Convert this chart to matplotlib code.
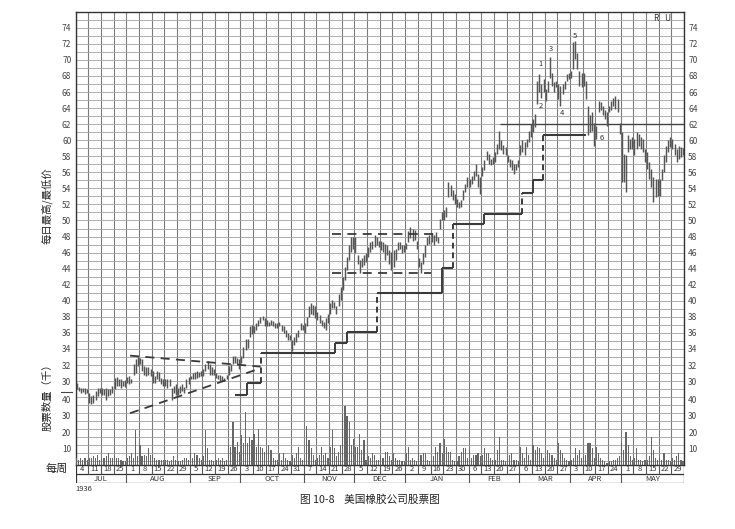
import numpy as np
import matplotlib.pyplot as plt
from matplotlib.lines import Line2D

plt.rcParams['font.family'] = ['Noto Sans CJK SC', 'DejaVu Sans']

# 每日最高/最低价, 6 bars a week, weeks ending Sat Jul 4 1936 .. May 29 1937
highs = [
    29.8, 29.3, 29.2, 29.2, 29.1, 29.0,   # Jul 4
    28.5, 28.1, 28.3, 28.75, 29.2, 29.1,
    29.2, 29.0, 29.2, 29.0, 29.0, 29.4,
    30.4, 30.5, 30.2, 30.2, 30.0, 30.1,
    30.5, 30.6, 30.3, 32.1, 32.7, 33.0,   # Aug 1
    32.9, 32.7, 31.9, 31.7, 31.7, 31.5,
    31.25, 30.6, 31.25, 31.1, 30.4, 30.2,
    30.2, 30.3, 30.2, 29.2, 29.4, 29.6,
    29.2, 29.4, 29.6, 29.3, 30.2, 30.5,
    30.6, 31.0, 31.1, 31.25, 31.1, 31.25,  # Sep 5
    31.5, 32.1, 32.5, 32.1, 31.7, 31.5,
    31.0, 30.8, 30.8, 30.6, 30.4, 30.8,
    31.9, 32.1, 33.1, 33.1, 32.9, 32.7,
    33.1, 34.2, 35.2, 35.3, 36.8, 37.0,   # Oct 3
    36.8, 37.2, 37.6, 38.0, 38.1, 37.8,
    37.6, 37.4, 37.6, 37.5, 37.2, 37.2,
    37.4, 37.0, 36.8, 36.4, 36.0, 35.7,
    35.1, 35.5, 36.0, 36.4, 37.2, 37.0,
    37.2, 38.0, 39.3, 39.7, 39.5, 39.3,   # Nov 7
    38.6, 38.2, 37.6, 37.4, 37.8, 38.4,
    39.7, 40.1, 39.9, 39.3, 40.9, 41.75,
    43.0, 44.2, 45.5, 47.0, 48.0, 47.9,
    48.0, 45.7, 45.1, 45.3, 45.7, 45.9,   # Dec 5
    46.7, 47.3, 47.5, 48.2, 47.96, 47.5,
    47.5, 47.3, 47.1, 46.9, 46.3, 46.1,
    46.3, 46.5, 47.3, 47.3, 46.9, 46.9,
    47.2, 48.7, 49.2, 49.0, 48.8, 47.5,   # Jan 2
    45.3, 44.8, 46.0, 46.9, 48.0, 48.2,
    48.4, 48.2, 48.6, 48.0, 50.2, 51.1,
    51.3, 51.7, 54.8, 54.4, 53.75, 53.3,
    52.7, 52.3, 52.5, 53.75, 54.6, 55.4,
    55.2, 55.6, 56.2, 57.06, 55.8, 55.4,  # Feb 6
    56.65, 57.5, 58.7, 58.3, 57.7, 57.9,
    58.5, 59.55, 61.2, 60.0, 59.34, 59.13,
    58.1, 57.7, 57.5, 57.06, 57.06, 57.5,
    59.34, 60.0, 59.76, 60.17, 61.2, 62.0,  # Mar 6
    62.65, 63.3, 67.4, 68.24, 67.0, 67.6,
    66.4, 67.4, 70.3, 68.4, 67.2, 67.4,
    67.0, 66.8, 67.0, 67.4, 68.2, 68.4,
    68.6, 72.2, 72.4, 70.9, 68.6, 68.4,   # Apr 3
    68.4, 67.4, 64.3, 63.1, 63.5, 62.2,
    61.8, 64.9, 64.7, 64.3, 63.7, 63.5,
    64.3, 64.9, 65.3, 65.5, 65.1, 62.2,
    61.0, 58.3, 58.1, 60.6, 60.2, 60.4,   # May 1
    60.2, 61.0, 60.8, 60.4, 60.2, 58.9,
    58.5, 57.3, 56.4, 55.4, 55.2, 55.2,
    55.2, 56.4, 58.1, 59.3, 60.0, 60.4,
    60.2, 59.5, 58.9, 59.3, 59.1, 59.0,
]
lows = [
    29.0, 28.75, 28.5, 28.6, 28.4, 28.5,
    27.3, 27.1, 27.3, 27.7, 28.1, 28.5,
    28.3, 28.3, 27.7, 28.1, 28.3, 28.5,
    29.0, 29.4, 29.4, 29.2, 29.4, 29.3,
    29.8, 29.6, 29.8, 30.8, 31.0, 31.9,
    32.1, 31.25, 30.8, 30.6, 30.8, 30.6,
    29.8, 29.8, 30.2, 30.0, 29.6, 29.4,
    29.4, 29.2, 29.4, 27.7, 28.5, 28.3,
    28.3, 28.5, 28.75, 28.5, 29.2, 29.6,
    30.2, 30.2, 30.3, 30.4, 30.5, 30.6,
    30.6, 31.25, 31.5, 30.8, 30.8, 30.8,
    30.4, 30.2, 30.0, 30.0, 30.0, 30.2,
    30.8, 31.25, 32.1, 32.3, 32.1, 31.5,
    32.3, 32.9, 33.9, 34.1, 35.5, 35.9,
    36.0, 36.4, 36.8, 37.2, 37.6, 36.8,
    36.8, 36.8, 37.0, 36.9, 36.6, 36.6,
    36.8, 36.2, 36.0, 35.5, 35.1, 35.1,
    33.7, 34.5, 34.9, 35.5, 36.4, 36.4,
    36.0, 36.8, 38.0, 38.4, 38.2, 37.8,
    37.6, 37.2, 36.8, 36.6, 36.4, 37.2,
    38.4, 39.05, 39.05, 38.4, 39.3, 40.1,
    41.3, 42.6, 43.8, 45.1, 46.1, 46.5,
    45.9, 44.6, 43.4, 44.2, 44.5, 44.85,
    45.5, 46.1, 46.5, 46.7, 46.9, 46.7,
    46.3, 46.1, 45.1, 45.7, 44.6, 43.8,
    44.2, 45.1, 46.3, 46.5, 45.9, 46.1,
    46.5, 47.3, 47.8, 47.5, 47.6, 46.5,
    44.2, 43.4, 44.6, 45.5, 47.0, 47.1,
    47.3, 46.9, 47.5, 47.2, 49.0, 50.0,
    50.0, 50.4, 52.9, 53.1, 52.5, 52.1,
    51.7, 51.5, 51.7, 52.5, 53.5, 54.2,
    54.2, 54.6, 55.0, 55.6, 54.2, 53.3,
    55.6, 56.24, 57.5, 57.06, 56.86, 57.06,
    57.27, 58.3, 58.93, 58.72, 58.3, 58.1,
    57.27, 56.65, 56.24, 55.8, 56.24, 56.65,
    58.1, 58.5, 58.1, 59.13, 59.76, 60.4,
    61.0, 61.6, 64.5, 66.0, 65.2, 66.0,
    64.9, 66.0, 67.8, 66.8, 66.0, 66.6,
    65.1, 64.3, 65.8, 66.4, 67.4, 67.6,
    67.8, 68.9, 70.1, 68.9, 66.8, 66.6,
    66.8, 65.1, 60.6, 61.0, 61.2, 59.3,
    60.2, 63.5, 63.7, 63.1, 62.6, 61.8,
    63.5, 63.7, 64.3, 63.9, 63.5, 60.8,
    54.8, 54.8, 53.5, 58.5, 58.9, 58.9,
    58.1, 58.9, 59.3, 58.9, 58.5, 57.3,
    56.4, 55.2, 54.2, 52.3, 52.9, 53.1,
    53.1, 55.0, 56.0, 57.3, 58.5, 59.1,
    58.9, 58.1, 57.3, 57.7, 57.9, 58.2,
]
# 股票数量（千）
volumes = [
    4, 3, 4, 3, 4, 3,    4, 4, 5, 4, 6, 3,    4, 4, 5, 7, 4, 4,    5, 4, 4, 3, 2, 2,
    4, 5, 7, 4, 21, 5,   12, 5, 6, 5, 10, 6,  6, 4, 3, 3, 3, 3,    3, 3, 2, 3, 5, 3,
    2, 2, 3, 4, 4, 3,    7, 4, 7, 6, 4, 3,    5, 21, 10, 3, 3, 2,  3, 4, 3, 4, 2, 3,
    12, 11, 26, 11, 14, 8,  18, 13, 32, 13, 17, 15,  19, 11, 22, 11, 10, 8,
    9, 12, 9, 4, 3, 3,   7, 3, 7, 4, 3, 2,    6, 4, 7, 11, 4, 3,
    4, 24, 15, 10, 6, 3,  4, 6, 11, 6, 7, 4,  11, 21, 10, 5, 8, 12,  31, 36, 30, 26, 12, 16,
    11, 11, 19, 9, 15, 3,  5, 4, 7, 6, 3, 3,  5, 4, 8, 8, 5, 3,   7, 4, 3, 3, 2, 2,
    7, 11, 3, 4, 3, 2,   7, 6, 7, 7, 3, 2,    3, 5, 11, 8, 13, 7,  16, 11, 8, 8, 3, 2,
    2, 5, 8, 10, 10, 4,  9, 4, 6, 6, 7, 5,    6, 10, 7, 7, 4, 3,   3, 9, 17, 3, 3, 2,
    2, 6, 7, 3, 3, 2,    11, 7, 4, 11, 6, 3,  12, 9, 11, 10, 7, 4,  5, 9, 7, 6, 4, 3,
    13, 9, 7, 4, 3, 2,   3, 4, 10, 6, 9, 4,   5, 6, 13, 13, 10, 4,  11, 7, 4, 3, 2, 1,
    2, 2, 3, 3, 4, 5,    13, 9, 20, 12, 5, 3,  4, 10, 3, 3, 2, 3,  3, 5, 17, 9, 4, 3,
    4, 3, 7, 3, 3, 2,    4, 3, 5, 7, 3, 2,
]

week_labels = ['4', '11', '18', '25', '1', '8', '15', '22', '29', '5', '12', '19', '26',
               '3', '10', '17', '24', '31', '7', '14', '21', '28', '5', '12', '19', '26',
               '2', '9', '16', '23', '30', '6', '13', '20', '27', '6', '13', '20', '27',
               '3', '10', '17', '24', '1', '8', '15', '22', '29']
months = ['JUL', 'AUG', 'SEP', 'OCT', 'NOV', 'DEC', 'JAN', 'FEB', 'MAR', 'APR', 'MAY']
month_weeks = [4, 5, 4, 5, 4, 4, 5, 4, 4, 4, 5]

# stop line (step) and pattern lines, in week / price units
step_levels = [28.3, 29.8, 33.55, 34.7, 36.15, 41.0, 44.1, 49.6, 50.8, 53.4, 55.1, 60.6]
step_edges = [12.6, 13.5, 14.6, 20.5, 21.4, 23.75, 28.9, 29.8, 32.2, 35.2, 36.1, 36.85, 40.3]
step_dashed = [False, True, False, False, True, False, True, False, True, False, True]
tri_upper = ([4.3, 14.6], [33.17, 31.8])
tri_lower = ([4.3, 14.6], [26.0, 31.6])
box_top = (48.3, 20.2, 28.6)
box_bottom = (43.5, 20.2, 28.0)
wave_labels = ['1', '2', '3', '4', '5', '6']
wave_x = [36.7, 36.7, 37.5, 38.4, 39.4, 41.5]
wave_y = [69.5, 64.2, 71.4, 63.4, 73.0, 60.3]

W, H = 735, 529
fig = plt.figure(figsize=(W / 100, H / 100), dpi=100)


def fx(px):
    return px / W


def fy(py):
    return 1 - py / H


left, right = 75.5, 684.1
ink = '#333333'

ax = fig.add_axes([fx(left), fy(464.6), fx(right) - fx(left), fy(11.7) - fy(464.6)])
ax.set_xlim(0, 48)
ax.set_ylim(19.6, 76)
ax.set_xticks(range(0, 49))
ax.set_yticks(range(30, 75, 2))
ax.set_yticks(range(20, 77), minor=True)
ax.grid(True, axis='y', which='both', color='#a0a0a0', lw=0.6)
ax.grid(True, axis='x', color='#7a7a7a', lw=0.8)
ax.set_axisbelow(True)
ax.tick_params(axis='x', length=0, labelbottom=False)
ax.tick_params(axis='y', which='both', length=0, labelsize=6, labelleft=True,
               labelright=True, pad=3, colors='#444')
for s in ax.spines.values():
    s.set_color(ink)
    s.set_linewidth(1.0)

n = len(highs)
xs = np.arange(n) // 6 + (np.arange(n) % 6 + 0.5) / 6
ax.vlines(xs, lows, highs, color='#555555', lw=1.05, zorder=3)

# stop line
for i, lvl in enumerate(step_levels):
    ax.hlines(lvl, step_edges[i], step_edges[i + 1], color='#3a3a3a', lw=1.5, zorder=4)
for i, d in enumerate(step_dashed):
    ax.vlines(step_edges[i + 1], step_levels[i], step_levels[i + 1], color='#3a3a3a', lw=1.4,
              linestyles=(0, (3, 2)) if d else 'solid', zorder=4)

ax.plot(*tri_upper, color='#3a3a3a', lw=1.3, ls=(0, (5, 3.5)), zorder=4)
ax.plot(*tri_lower, color='#3a3a3a', lw=1.3, ls=(0, (5, 3.5)), zorder=4)
for lvl, x0, x1 in (box_top, box_bottom):
    ax.hlines(lvl, x0, x1, color='#3a3a3a', lw=1.3, linestyles=(0, (5, 3.5)), zorder=4)
ax.hlines(62, 33.5, 48, color='#444444', lw=1.0, zorder=2)

for t, x, y in zip(wave_labels, wave_x, wave_y):
    ax.text(x, y, t, fontsize=5.5, ha='center', va='center', color='#333')
ax.text(45.8, 75.1, 'R', fontsize=6, ha='center', va='center', color='#333')
ax.text(46.7, 75.1, 'U', fontsize=6, ha='center', va='center', color='#333')

# volume
axv = fig.add_axes([fx(left), fy(464.6), fx(right) - fx(left), fy(381.7) - fy(464.6)])
axv.patch.set_alpha(0)
axv.set_xlim(0, 48)
axv.set_ylim(0, 50.9)
axv.bar(xs, volumes, width=0.09, color='#666666', zorder=3)
axv.set_xticks([])
axv.set_yticks([10, 20, 30, 40])
axv.tick_params(axis='y', length=0, labelsize=6, labelleft=True, labelright=True,
                pad=3, colors='#444')
for s in axv.spines.values():
    s.set_visible(False)

# week / month strip
axl = fig.add_axes([fx(left), fy(483.3), fx(right) - fx(left), fy(464.6) - fy(483.3)])
axl.set_xlim(0, 48)
axl.set_ylim(0, 2)
axl.axis('off')
axl.hlines([0, 1], 0, 48, color=ink, lw=0.9)
axl.vlines([0, 48], 0, 2, color=ink, lw=0.9)
axl.vlines(range(1, 48), 1, 2, color='#555', lw=0.8)
bounds = np.concatenate([[0], np.cumsum(month_weeks)])
axl.vlines(bounds[1:-1], 0, 1, color='#555', lw=0.8)
for i, t in enumerate(week_labels):
    axl.text(i + 0.5, 1.5, t, fontsize=5.5, ha='center', va='center', color='#333')
for i, m in enumerate(months):
    axl.text((bounds[i] + bounds[i + 1]) / 2, 0.5, m, fontsize=5.5, ha='center',
             va='center', color='#333')

fig.add_artist(Line2D([fx(61), fx(72)], [fy(392), fy(392)], color='#444', lw=0.8))

fig.text(fx(47), fy(206), '每日最高/最低价', rotation=90, fontsize=7.5, ha='center',
         va='center', color='#222')
fig.text(fx(47), fy(395), '股票数量（千）', rotation=90, fontsize=7.5, ha='center',
         va='center', color='#222')
fig.text(fx(57), fy(469), '每周', fontsize=8, ha='center', va='center', color='#222')
fig.text(fx(75), fy(489), '1936', fontsize=5.5, ha='left', va='center', color='#333')
fig.text(fx(370), fy(500), '图 10-8    美国橡胶公司股票图', fontsize=7.7, ha='center',
         va='center', color='#222')

fig.savefig('out.png', dpi=100, facecolor='white')
